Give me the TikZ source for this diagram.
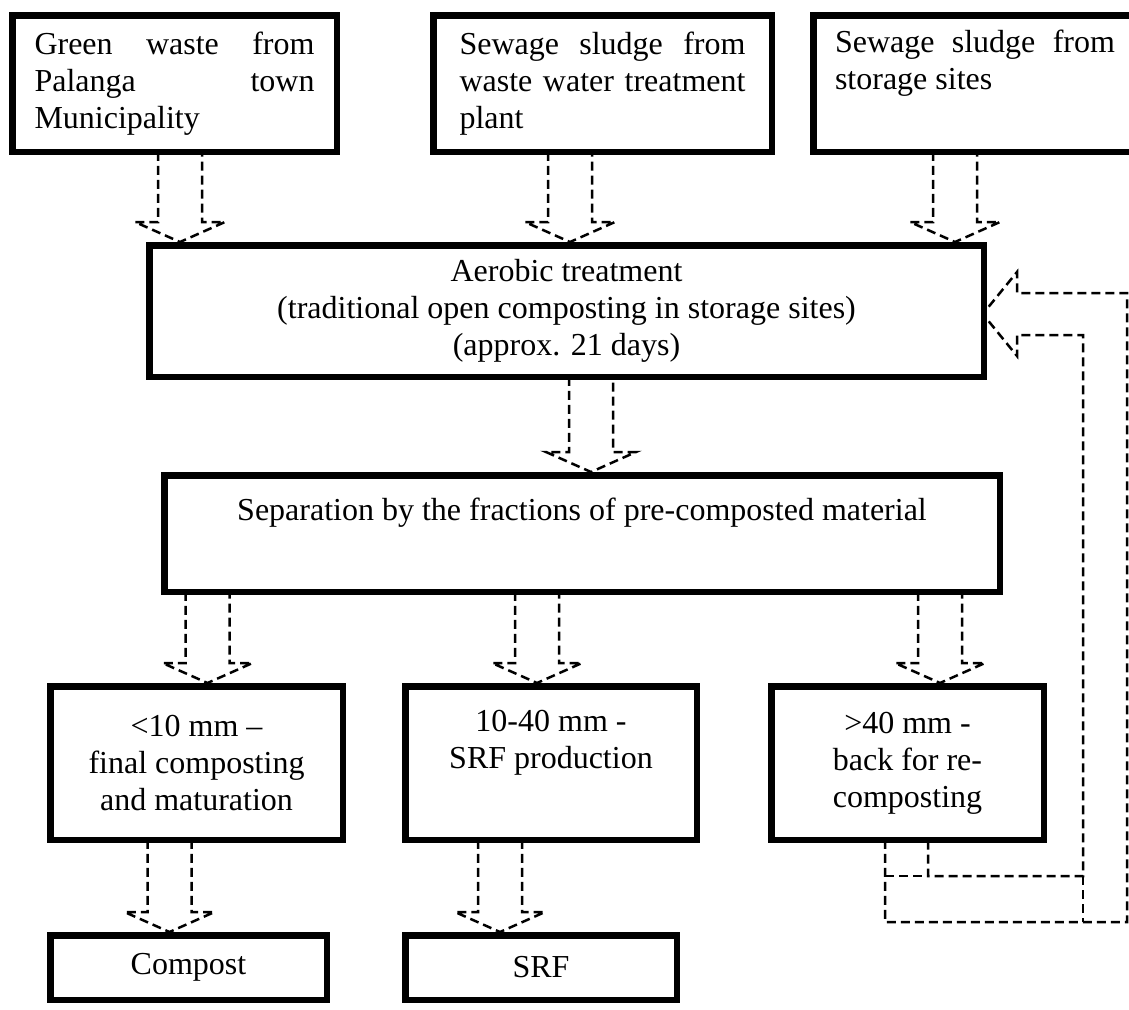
\documentclass[tikz,border=0pt]{standalone}
\usepackage{fontspec}
\setmainfont{Liberation Serif}
\usetikzlibrary{calc}
\tikzset{
  box/.style={draw, line width=6.5pt, inner sep=0pt, outer sep=0pt, align=center,
    font=\fontsize{32pt}{37pt}\selectfont},
  dashln/.style={line width=2.5pt, dash pattern=on 9pt off 5pt, line join=miter},
}
% block arrow pointing down: #1 = x centre (pt), #2 = source node, #3 = target node
\newcommand\blkdown[3]{%
  \draw[dashln] let \p1=(#2.south), \p2=(#3.north) in
    ({#1pt-22pt},{\y1}) -- ({#1pt-22pt},{\y2+23.25pt}) -- ({#1pt-45pt},{\y2+23.25pt})
    -- ({#1pt},{\y2+3.25pt}) -- ({#1pt+45pt},{\y2+23.25pt}) -- ({#1pt+22pt},{\y2+23.25pt})
    -- ({#1pt+22pt},{\y1}) -- cycle;}
\begin{document}
\begin{tikzpicture}[x=1pt,y=-1pt]
\useasboundingbox (0,0) rectangle (1129,1009);
\clip (0,0) rectangle (1129,1009);

% top row
\node[box, minimum width=324.5pt, minimum height=136.5pt, align=left] (b1) at (174.5,83.5)
  {\makebox[280pt][s]{Green waste from}\\\makebox[280pt][s]{Palanga town}\\Municipality};
\node[box, minimum width=338.5pt, minimum height=136.5pt, align=left] (b2) at (602.5,83.5)
  {\makebox[286pt][s]{Sewage sludge from}\\\makebox[286pt][s]{waste water treatment}\\plant};
\node[box, minimum width=323.5pt, minimum height=136.5pt, align=left] (b3) at (975,83.5)
  {\makebox[280pt][s]{Sewage sludge from}\\storage sites\\\strut};

% aerobic
\node[box, minimum width=834.5pt, minimum height=131.5pt] (aer) at (566.5,311)
  {Aerobic treatment\\(traditional open composting in storage sites)\\(approx. 21 days)};

% separation
\node[box, minimum width=835.5pt, minimum height=116.5pt] (sep) at (582,533.5)
  {Separation by the fractions of pre-composted material\\\strut};

% fractions
\node[box, minimum width=292.5pt, minimum height=153.5pt] (c1) at (196.5,763)
  {<10 mm --\\final composting\\and maturation};
\node[box, minimum width=291.5pt, minimum height=153.5pt] (c2) at (551,763)
  {10-40 mm -\\SRF production\\\strut};
\node[box, minimum width=272.5pt, minimum height=153.5pt] (c3) at (907.5,763)
  {>40 mm -\\back for re-\\composting};

% products
\node[box, minimum width=276.5pt, minimum height=64.5pt] (comp) at (188.5,967.5) {Compost};
\node[box, minimum width=271.5pt, minimum height=64.5pt] (srf) at (541,967.5) {SRF};

% block arrows
\blkdown{180}{b1}{aer}
\blkdown{570}{b2}{aer}
\blkdown{955}{b3}{aer}
\blkdown{591}{aer}{sep}
\blkdown{207.5}{sep}{c1}
\blkdown{537}{sep}{c2}
\blkdown{940}{sep}{c3}
\blkdown{169.5}{c1}{comp}
\blkdown{500}{c2}{srf}

% return arrow (>40 mm back to aerobic treatment)
\draw[dashln] let \p1=(c3.south), \p2=(aer.east) in
  (885pt,\y1) -- (885pt,-922pt) -- (1127pt,-922pt) -- (1127pt,-293pt) -- (1017pt,-293pt)
  -- (1017pt,-272pt) -- ({\x2-1pt},-314pt) -- (1017pt,-356pt) -- (1017pt,-335pt)
  -- (1083pt,-335pt) -- (1083pt,-876pt) -- (928pt,-876pt) -- (928pt,\y1);
\draw[dashln] (885,876) -- (928,876) (1083,876) -- (1083,922);
\end{tikzpicture}
\end{document}
